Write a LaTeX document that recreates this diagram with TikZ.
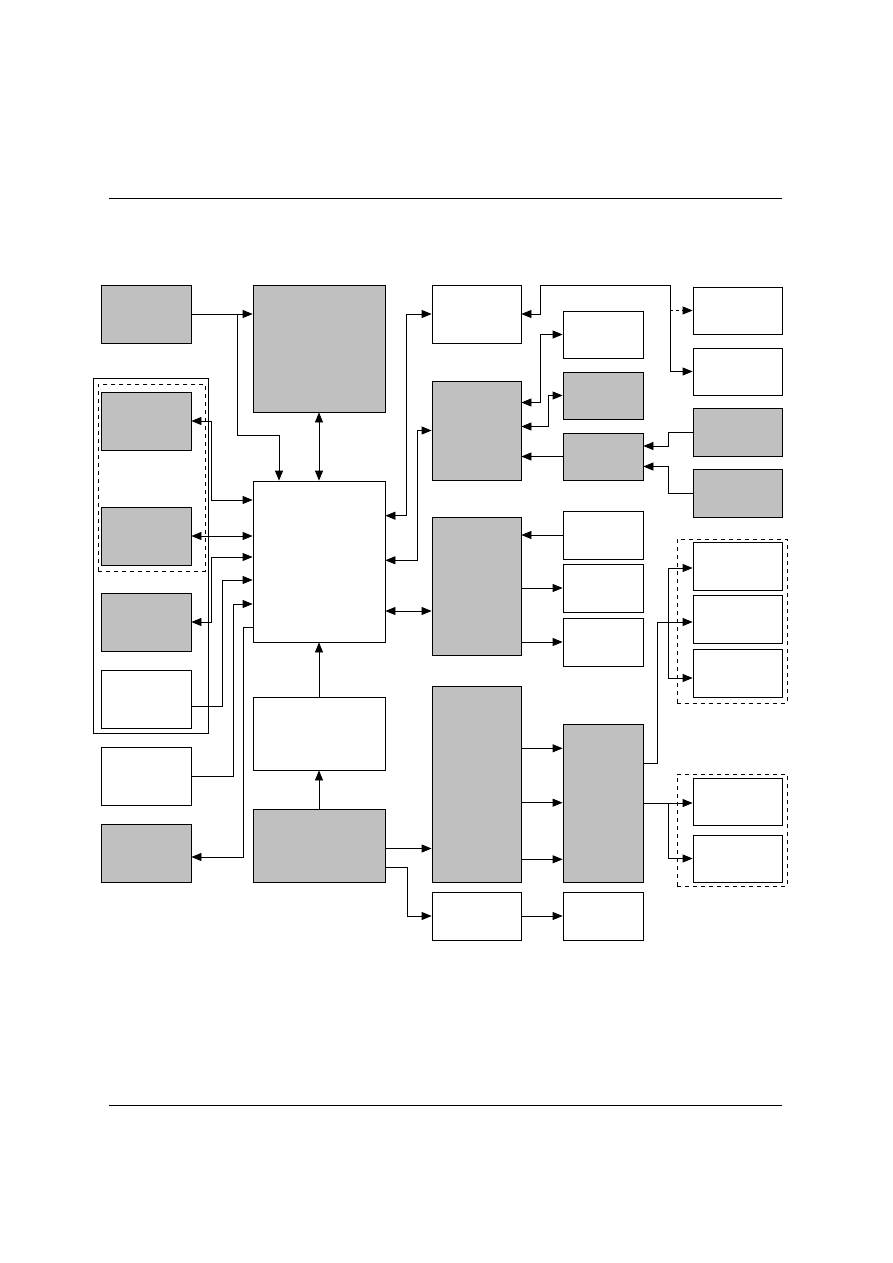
\documentclass[tikz,border=0pt]{standalone}
\usetikzlibrary{arrows.meta,fit}
\definecolor{boxgray}{HTML}{C0C0C0}
\begin{document}
\begin{tikzpicture}[x=1pt,y=-1pt,line width=0.8pt,
  wbox/.style={draw,fill=white,inner sep=0pt,line width=0.8pt},
  gbox/.style={draw,fill=boxgray,inner sep=0pt,line width=0.8pt},
  grp/.style={draw,inner sep=0pt,line width=0.8pt},
  dgrp/.style={draw,inner sep=0pt,line width=0.8pt,dash pattern=on 4pt off 4pt},
  arr/.style={-{Triangle[length=10pt,width=8pt]}},
  darr/.style={{Triangle[length=10pt,width=8pt]}-{Triangle[length=10pt,width=8pt]}},
  ddash/.style={dash pattern=on 3pt off 3pt}]
\useasboundingbox (0,0) rectangle (893,1263);
% rules
\coordinate (r1a) at (109,198.3); \coordinate (r1b) at (781.7,198.3);
\coordinate (r2a) at (109,1105.3); \coordinate (r2b) at (781.7,1105.3);
\draw (r1a) -- (r1b);
\draw (r2a) -- (r2b);
% groups
\node[grp, fit={(93,378) (208,733)}] (G0) {};
\node[dgrp, fit={(98,384) (205,571)}] (G1) {};
\node[dgrp, fit={(677,539) (787,703)}] (G2) {};
\node[dgrp, fit={(677,774) (787,886)}] (G3) {};
% boxes
\node[gbox, fit={(101,285) (191,343)}] (A) {};
\node[gbox, fit={(253,285) (385,412)}] (B) {};
\node[wbox, fit={(253,481) (385,642)}] (C) {};
\node[wbox, fit={(253,697) (385,770)}] (H) {};
\node[gbox, fit={(253,809) (385,882)}] (I) {};
\node[gbox, fit={(101,392) (191,450)}] (D1) {};
\node[gbox, fit={(101,507) (191,565)}] (D2) {};
\node[gbox, fit={(101,593) (191,651)}] (D3) {};
\node[wbox, fit={(101,670) (191,728)}] (D4) {};
\node[wbox, fit={(101,747) (191,805)}] (D5) {};
\node[gbox, fit={(101,824) (191,882)}] (D6) {};
\node[wbox, fit={(432,285) (521,343)}] (E) {};
\node[gbox, fit={(432,381) (521,480)}] (F) {};
\node[gbox, fit={(432,517) (521,655)}] (G) {};
\node[gbox, fit={(432,686) (521,882)}] (J) {};
\node[wbox, fit={(432,892) (521,940)}] (K) {};
\node[wbox, fit={(563,311) (643,358)}] (M1) {};
\node[gbox, fit={(563,372) (643,419)}] (M2) {};
\node[gbox, fit={(563,433) (643,480)}] (M3) {};
\node[wbox, fit={(563,511) (643,559)}] (N1) {};
\node[wbox, fit={(563,564) (643,612)}] (N2) {};
\node[wbox, fit={(563,618) (643,666)}] (N3) {};
\node[gbox, fit={(563,724) (643,882)}] (P) {};
\node[wbox, fit={(563,892) (643,940)}] (L) {};
\node[wbox, fit={(693,287) (782,334)}] (R1) {};
\node[wbox, fit={(693,348) (782,395)}] (R2) {};
\node[gbox, fit={(693,408) (782,456)}] (R3) {};
\node[gbox, fit={(693,469) (782,517)}] (R4) {};
\node[wbox, fit={(693,542) (782,590)}] (S1) {};
\node[wbox, fit={(693,595) (782,643)}] (S2) {};
\node[wbox, fit={(693,649) (782,697)}] (S3) {};
\node[wbox, fit={(693,778) (782,825)}] (T1) {};
\node[wbox, fit={(693,835) (782,882)}] (T2) {};
% helper coordinates
\coordinate (xa) at (237.3,0);
\coordinate (ya) at (0,435);
\coordinate (xR) at (670,0);
\coordinate (xS) at (668.3,0);
\coordinate (cw1) at ([yshift=61.5pt]C.west);
\coordinate (cw3) at ([yshift=4.5pt]C.west);
\coordinate (cw4) at ([yshift=-18.5pt]C.west);
\coordinate (cw5) at ([yshift=-42.5pt]C.west);
\coordinate (cw6) at ([yshift=-65.5pt]C.west);
\coordinate (ce1) at ([yshift=45.8pt]C.east);
\coordinate (ce2) at ([yshift=1.2pt]C.east);
\coordinate (ce3) at ([yshift=-49.5pt]C.east);
\coordinate (cn1) at ([xshift=-40pt]C.north);
\coordinate (d4e) at ([yshift=-7pt]D4.east);
\coordinate (d6e) at ([yshift=-4pt]D6.east);
\coordinate (ie1) at ([yshift=-3pt]I.east);
\coordinate (ie2) at ([yshift=-22pt]I.east);
\coordinate (fe1) at ([yshift=28pt]F.east);
\coordinate (fe2) at ([yshift=4pt]F.east);
\coordinate (m3a) at ([yshift=10.5pt]M3.east);
\coordinate (m3b) at ([yshift=-10pt]M3.east);
\coordinate (je1) at ([yshift=35.7pt]J.east);
\coordinate (je2) at ([yshift=-18.7pt]J.east);
\coordinate (je3) at ([yshift=-75.3pt]J.east);
\coordinate (pe1) at ([yshift=40pt]P.east);
\coordinate (s1w) at ([yshift=-2pt]S1.west);
\coordinate (s2w) at ([yshift=-3pt]S2.west);
\coordinate (s3w) at ([yshift=-5pt]S3.west);
% connectors left
\draw[arr] (A.east) -- (A.east -| B.west);
\draw[arr] (A.east -| xa) -- (ya -| xa) -| (cn1);
\draw[darr] (B.south) -- (C.north);
\draw[darr] (D1.east) -- ++(20.3,0) |- (cw1);
\draw[darr] (D2.east) -- (D2.east -| C.west);
\draw[darr] (D3.east) -- ++(20.3,0) |- (cw3);
\draw[arr] (d4e) -- ++(31.3,0) |- (cw4);
\draw[arr] (D5.east) -- ++(41.7,0) |- (cw5);
\draw[arr] (cw6) -- ++(-9.7,0) |- (d6e);
\draw[arr] (H.north) -- (C.south);
\draw[arr] (I.north) -- (H.south);
% connectors middle
\draw[darr] (ce1) -- ++(20.7,0) |- (E.west);
\draw[darr] (ce2) -- ++(31.7,0) |- (F.west);
\draw[darr] (ce3) -- (ce3 -| G.west);
\draw[arr] (ie1) -- (ie1 -| J.west);
\draw[arr] (ie2) -- ++(22,0) |- (K.west);
% right upper
\draw[darr] (E.east) -- ++(19.3,0) |- (0,285 -| xR) |- (R2.west);
\draw[arr,ddash] (R1.west -| xR) -- (R1.west);
\draw[darr] (fe1) -- ++(19.3,0) |- (M1.west);
\draw[darr] (fe2) -- ++(27.3,0) |- (M2.west);
\draw[arr] (M3.west) -- (M3.west -| F.east);
\draw[arr] (R3.west) -- (R3.west -| xS) |- (m3a);
\draw[arr] (R4.west) -- (R4.west -| xS) |- (m3b);
% right middle
\draw[arr] (N1.west) -- (N1.west -| G.east);
\draw[arr] (N2.west -| G.east) -- (N2.west);
\draw[arr] (N3.west -| G.east) -- (N3.west);
\draw[arr] (je1) -- (je1 -| P.west);
\draw[arr] (je2) -- (je2 -| P.west);
\draw[arr] (je3) -- (je3 -| P.west);
\draw[arr] (pe1) -- ++(14.4,0) |- (s2w);
\draw[arr] (s2w -| xS) |- (s1w);
\draw[arr] (s2w -| xS) |- (s3w);
\draw[arr] (P.east) -- (P.east -| T1.west);
\draw[arr] (P.east -| xS) |- (T2.west);
\draw[arr] (K.east) -- (L.west);
\end{tikzpicture}
\end{document}
